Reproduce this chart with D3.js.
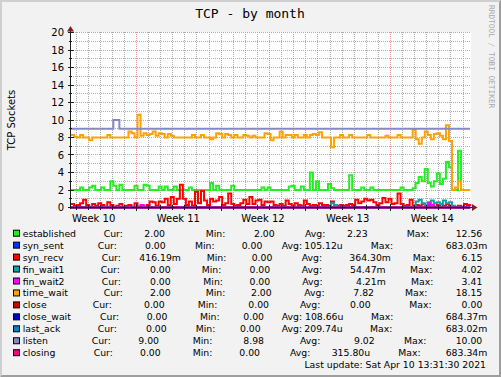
<!DOCTYPE html>
<html lang="en">
<head>
<meta charset="UTF-8">
<title>TCP - by month</title>
<script src="https://d3js.org/d3.v7.min.js"></script>
<style>
  body { margin: 0; background: #fff; }
  svg { display: block; }
  text { font-family: "DejaVu Sans", sans-serif; fill: #000; }
  .mono { font-family: "DejaVu Sans Mono", monospace; }
  .grid line, .tick line { shape-rendering: crispEdges; }
  .serie { fill: none; stroke-width: 2px; }
  .legend text { font-size: 9.3px; }
</style>
</head>
<body>
<svg width="501" height="377"></svg>
<script>
// one sample every 6 hours, the first one at Tue Mar 9 15:00 UTC
var start = Date.UTC(2021, 2, 9, 15, 0),
    end = Date.UTC(2021, 3, 11, 16, 45),
    step = 6 * 3600 * 1000;

var established = [2,2,2,2.3,2,2,2.3,2.5,2,2,
  2.3,2,2,3,2.5,2,2.6,2,2,2,
  2,2.5,2,2,2.6,2.5,2,2,2,2.4,
  2,2.4,2,2,2.4,2,2,2,2,2.3,
  2,2,2,2,2,2,2.8,2,2.5,2,
  2,2,2,2.5,2,2,2,2,2,2,
  2,2,2,2.3,2,2.3,2,2,2,2,
  2,2,2.4,2.5,2,2,2.4,2,2,4,
  2,3,2,2,2,2.7,2.2,2,2,2,
  2,2,3.7,2,2,2,2.3,2,2,2.3,
  2,2,2,2,2,2,2,2,2,2.3,
  2,2,2,2.2,2.8,3.5,3,4.4,2.8,2.4,
  3,3.9,2.7,3.3,5.2,4.6,2,2,6.5,2,
  2,2,2];

var syn_recv = [0.4,0.2,0.3,0.5,0.9,0.3,0.1,0.4,0.2,0.5,
  0.3,0.1,0.6,0.3,0.1,0.2,0.4,0.1,0.2,0.3,
  0.1,0.5,0.1,0.2,0.1,0.3,0.7,0.6,0.2,0.7,
  0.6,1.0,0.3,1.2,0.4,1.0,2.6,1.0,0.3,0.7,
  0.2,1.8,0.5,1.9,0.8,0.3,1.0,0.7,0.8,1.2,
  0.3,0.5,1.6,0.4,0.2,0.3,0.5,0.9,0.4,1.2,
  0.4,0.8,0.9,0.3,0.7,0.6,0.7,0.3,0.2,0.4,
  0.2,0.8,0.4,0.2,0.5,0.3,0.2,0.8,0.4,0.2,
  0.3,0.2,0.5,0.3,0.3,0.2,0.7,0.3,0.2,0.3,
  0.2,0.3,0.4,0.3,0.9,0.5,0.7,1.0,0.8,0.9,
  0.6,0.3,0.5,1.1,0.6,1.0,0.4,0.5,1.6,0.4,
  0.2,0.3,0.9,0.2,0.3,0.2,0.4,0.1,0.3,0.2,
  0.1,0.3,0.1,0.2,0.4,0.2,0.1,0.1,0.2,0.1,
  0.4,0.3,0.4];

var fin_wait1 = [0,0,0,0,0,0,0,0,0,0, 0,0,0,0,0,0,0,0,0,0,
  0,0,0,0,0,0,0,0,0,0, 0,0,0,0,0,0,0,0,0,0,
  0,0,0,0,0,0,0,0,0,0, 0,0,0,0,0,0,0,0,0,0,
  0,0,0,0,0,0,0,0,0,0, 0,0,0,0,0,0,0,0,0,0,
  0,0,0,0,0,0,0.5,0.3,0,0, 0,0,0,0,0,0,0,0,0,0,
  0,0,0,0,0,0,0,0,0,0, 0,0,0,0,0.7,0.9,0.5,0.3,0.6,0.8,
  0.5,0.6,0.4,0.8,0.5,0.6,0.2,0,0,0, 0,0,0];

var fin_wait2 = [0,0,0,0,0,0,0,0,0,0, 0,0,0,0,0,0,0,0,0,0,
  0,0,0,0.3,0,0,0,0,0,0, 0,0,0,0,0,0,0,0,0,0,
  0,0,0,0,0,0,0,0,0,0, 0,0,0,0,0,0,0,0,0,0,
  0,0,0,0,0,0,0,0,0,0, 0,0,0,0,0,0,0,0,0,0,
  0,0,0,0,0,0,0,0,0,0, 0,0,0,0,0,0,0,0,0,0,
  0,0,0,0,0,0,0,0,0,0, 0,0,0,0,0,0,0,0,0.5,0.3,
  0,0,0,0,0,0,0,0,0,0, 0,0,0];

var time_wait = [8.3,8.1,8,8.3,8,8,7.7,8,8,8,
  8,8,8.3,8,8,8,8,8,8,8.7,
  8.5,8,10.6,8.2,8.5,8.3,8.4,8.7,8.2,8.5,
  8.4,8,8.4,8.2,8,8,8,8,8,8,
  8.3,8,8,8.3,8,8,7.8,8,8.5,8.4,
  8,8.4,8.3,8,8.3,8,8,8.3,8.2,8,
  8.2,8,8,8,8.5,8.4,7.7,8,8,8.65,
  8,8.3,8.3,8,8.3,8,8,8.3,8,8.3,
  8.4,8.3,8.6,8,8,8,6.9,8,8,8.3,
  8,8,8.3,8,8,8,8,8,8.3,8,
  8,8,8,8,8.2,8,8,8,8.3,8,
  8,8,8,8.9,7.8,7.3,8,8.7,8.3,7.8,
  8.4,8.5,8.2,7.8,9.4,7.6,2,2.3,3,2,
  2,2,2];

var listen = [9,9,9,9,9,9,9,9,9,9, 9,9,9,9,10,10,9,9,9,9,
  9,9,9,9,9,9,9,9,9,9, 9,9,9,9,9,9,9,9,9,9,
  9,9,9,9,9,9,9,9,9,9, 9,9,9,9,9,9,9,9,9,9,
  9,9,9,9,9,9,9,9,9,9, 9,9,9,9,9,9,9,9,9,9,
  9,9,9,9,9,9,9,9,9,9, 9,9,9,9,9,9,9,9,9,9,
  9,9,9,9,9,9,9,9,9,9, 9,9,9,9,9,9,9,9,9,9,
  9,9,9,9,9,9,9,9,9,9, 9,9,9];

// syn_sent, close, close_wait, last_ack and closing stay at zero
var zeros = [0,0,0,0,0,0,0,0,0,0, 0,0,0,0,0,0,0,0,0,0,
  0,0,0,0,0,0,0,0,0,0, 0,0,0,0,0,0,0,0,0,0,
  0,0,0,0,0,0,0,0,0,0, 0,0,0,0,0,0,0,0,0,0,
  0,0,0,0,0,0,0,0,0,0, 0,0,0,0,0,0,0,0,0,0,
  0,0,0,0,0,0,0,0,0,0, 0,0,0,0,0,0,0,0,0,0,
  0,0,0,0,0,0,0,0,0,0, 0,0,0,0,0,0,0,0,0,0,
  0,0,0,0,0,0,0,0,0,0, 0,0,0];

var names = ["established", "syn_sent", "syn_recv", "fin_wait1", "fin_wait2", "time_wait",
             "close", "close_wait", "last_ack", "listen", "closing"];
var values = [established, zeros, syn_recv, fin_wait1, fin_wait2, time_wait,
              zeros, zeros, zeros, listen, zeros];
var curText = ["2.00", "0.00", "416.19m", "0.00", "0.00", "2.00", "0.00", "0.00", "0.00", "9.00", "0.00"];
var minText = ["2.00", "0.00", "0.00", "0.00", "0.00", "2.00", "0.00", "0.00", "0.00", "8.98", "0.00"];
var avgText = ["2.23", "105.12u", "364.30m", "54.47m", "4.21m", "7.82", "0.00", "108.66u", "209.74u", "9.02", "315.80u"];
var maxText = ["12.56", "683.03m", "6.15", "4.02", "3.41", "18.15", "0.00", "684.37m", "683.02m", "10.00", "683.34m"];
var yTicks = [0, 2, 4, 6, 8, 10, 12, 14, 16, 18, 20];

var colors = ["#22ee22", "#0033ff", "#ff0000", "#10a0a0", "#ff00ff", "#ffa200",
              "#cc0000", "#0000cc", "#0080c0", "#8787c8", "#ff0080"];
// x of: Cur:, value, Min:, value, Avg:, value, Max: (the max value is right aligned)
var legendX = [
  [103.7, 144.3, 205.7, 254, 305, 347, 406.7],
  [97.7, 145, 195, 241.7, 281.7, 304.3, 370.7],
  [101.7, 139.3, 206.7, 251.7, 301.7, 349.3, 412.7],
  [100.7, 150, 201.7, 249.5, 301.7, 350, 410],
  [101.7, 150, 203.3, 249.5, 302.3, 356, 411],
  [103.7, 150, 205.7, 251, 304.3, 353.3, 405],
  [92.7, 144, 197.7, 248.3, 300, 350, 409.3],
  [100, 146.7, 200, 243.3, 281.7, 305, 371],
  [97.7, 146, 195.7, 240, 281.7, 304.3, 370],
  [91.7, 138.3, 192.7, 243.3, 300, 354, 404],
  [93.7, 140, 192.7, 239.3, 290, 331.7, 398.3]
];

var svg = d3.select("svg"),
    W = +svg.attr("width"),
    H = +svg.attr("height");

var x = d3.scaleUtc().domain([start, end]).range([71, 471]),
    y = d3.scaleLinear().domain([0, 20]).range([207, 32]);

// background and shaded frame
svg.append("rect").attr("width", W).attr("height", H).attr("fill", "#f2f2f2");
svg.append("path").attr("d", "M0,0H" + W + "L" + (W - 2) + ",2H2V" + (H - 2) + "L0," + H + "Z").attr("fill", "#cfcfcf");
svg.append("path").attr("d", "M" + W + ",0V" + H + "H0L2," + (H - 2) + "H" + (W - 2) + "V2Z").attr("fill", "#9e9e9e");
svg.append("rect").attr("x", 71).attr("y", 32).attr("width", 400).attr("height", 176).attr("fill", "#fff");

var px = function(v) { return Math.round(v) + 0.5; };

// grid
var grid = svg.append("g").attr("class", "grid");
var days = d3.utcDay.range(start, end),
    mondays = d3.utcMonday.range(start, end);
grid.selectAll(".vmin").data(days.filter(function(d) { return d.getUTCDay() !== 1; }))
  .enter().append("line")
  .attr("x1", function(d) { return px(x(d)); }).attr("x2", function(d) { return px(x(d)); })
  .attr("y1", 32).attr("y2", 207)
  .attr("stroke", "#ababab").attr("stroke-dasharray", "1,1");
var hMinor = d3.range(1, 20, 2);
grid.selectAll(".hmin").data(hMinor)
  .enter().append("line")
  .attr("x1", 71).attr("x2", 471)
  .attr("y1", function(d) { return px(y(d)); }).attr("y2", function(d) { return px(y(d)); })
  .attr("stroke", "#ababab").attr("stroke-dasharray", "1,1");
grid.selectAll(".vmaj").data(mondays)
  .enter().append("line")
  .attr("x1", function(d) { return px(x(d)); }).attr("x2", function(d) { return px(x(d)); })
  .attr("y1", 32).attr("y2", 207)
  .attr("stroke", "#e59595").attr("stroke-dasharray", "1,1");
grid.selectAll(".hmaj").data(yTicks.slice(1))
  .enter().append("line")
  .attr("x1", 71).attr("x2", 471)
  .attr("y1", function(d) { return px(y(d)); }).attr("y2", function(d) { return px(y(d)); })
  .attr("stroke", "#e59595").attr("stroke-dasharray", "1,1");

// lines
var line = d3.line()
  .x(function(d, i) { return x(start + i * step); })
  .y(function(d) { return y(d) + 0.5; })
  .curve(d3.curveStepAfter);

svg.selectAll(".serie").data(values)
  .enter().append("path")
  .attr("class", "serie")
  .attr("stroke", function(d, i) { return colors[i]; })
  .attr("d", line);

// axes
var axis = svg.append("g").attr("class", "tick");
axis.selectAll(".yt").data(d3.range(0, 21))
  .enter().append("line")
  .attr("x1", function(d) { return d % 2 ? 69 : 68; }).attr("x2", function(d) { return d % 2 ? 72 : 74; })
  .attr("y1", function(d) { return px(y(d)); }).attr("y2", function(d) { return px(y(d)); })
  .attr("stroke", "#1f1f1f");
axis.selectAll(".xt").data(days)
  .enter().append("line")
  .attr("x1", function(d) { return px(x(d)); }).attr("x2", function(d) { return px(x(d)); })
  .attr("y1", function(d) { return d.getUTCDay() === 1 ? 204 : 205; })
  .attr("y2", function(d) { return d.getUTCDay() === 1 ? 211 : 210; })
  .attr("stroke", "#1f1f1f");
axis.append("line").attr("x1", 70.5).attr("x2", 70.5).attr("y1", 209).attr("y2", 29).attr("stroke", "#1f1f1f");
axis.append("line").attr("x1", 68).attr("x2", 474).attr("y1", 207.5).attr("y2", 207.5).attr("stroke", "#1f1f1f");
svg.append("path").attr("d", "M67,31.5L70.5,26L74,31.5Z").attr("fill", "#7f1f1f");
svg.append("path").attr("d", "M472,204L477.5,207.5L472,211Z").attr("fill", "#7f1f1f");

// axis labels
svg.selectAll(".ylabel").data(yTicks)
  .enter().append("text")
  .attr("x", 64).attr("y", function(d) { return y(d) + 0.5; })
  .attr("dy", "0.36em").attr("text-anchor", "end")
  .style("font-size", "10px")
  .text(function(d) { return d; });

var weekFormat = d3.utcFormat("Week %V");
svg.selectAll(".xlabel").data(d3.utcMonday.range(d3.utcMonday.floor(start), end))
  .enter().append("text")
  .attr("x", function(d) { return x(d3.utcHour.offset(d, 84)); })
  .attr("y", 221.5).attr("text-anchor", "middle")
  .style("font-size", "10px")
  .text(weekFormat);

svg.append("text").attr("class", "mono")
  .attr("x", 250).attr("y", 18).attr("text-anchor", "middle")
  .style("font-size", "13px")
  .text("TCP - by month");

svg.append("text")
  .attr("transform", "translate(15,120) rotate(-90)")
  .attr("text-anchor", "middle")
  .style("font-size", "10px")
  .text("TCP Sockets");

svg.append("text").attr("class", "mono")
  .attr("transform", "translate(489,5) rotate(90)")
  .style("font-size", "7.8px").style("fill", "#a8a8a8")
  .text("RRDTOOL / TOBI OETIKER");

// legend
var legend = svg.append("g").attr("class", "legend");
var row = legend.selectAll(".row").data(names)
  .enter().append("g")
  .attr("transform", function(d, i) { return "translate(0," + (236.7 + i * 11.95) + ")"; });
row.append("rect")
  .attr("x", 13.5).attr("y", -6.5).attr("width", 6).attr("height", 6)
  .attr("fill", function(d, i) { return colors[i]; })
  .attr("stroke", "#000").attr("stroke-width", 1);
row.append("text").attr("x", 22.7).text(function(d) { return d; });
row.each(function(d, i) {
  var g = d3.select(this), lx = legendX[i];
  var parts = ["Cur:", curText[i], "Min:", minText[i], "Avg:", avgText[i], "Max:"];
  parts.forEach(function(p, k) { g.append("text").attr("x", lx[k]).text(p); });
  var unit = /[a-z]$/.test(maxText[i]);
  g.append("text").attr("x", unit ? 487.3 : 482.3).attr("text-anchor", "end").text(maxText[i]);
});

legend.append("text")
  .attr("x", 486).attr("y", 236.7 + 11 * 11.95).attr("text-anchor", "end")
  .text("Last update: Sat Apr 10 13:31:30 2021");
</script>
</body>
</html>
